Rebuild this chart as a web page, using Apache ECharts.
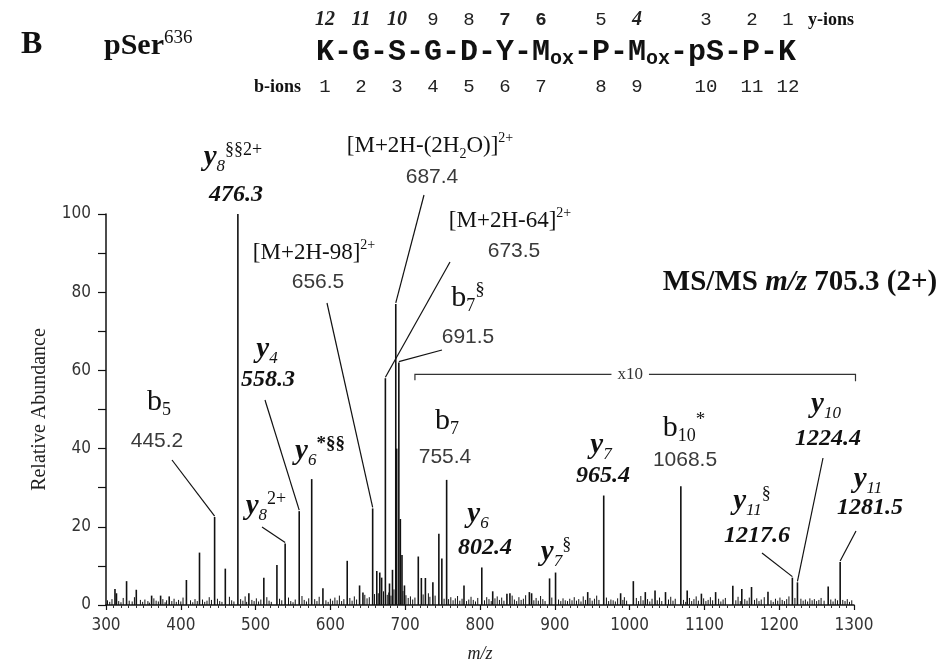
<!DOCTYPE html>
<html><head><meta charset="utf-8">
<script src="https://cdn.jsdelivr.net/npm/echarts@6/dist/echarts.min.js"></script>
<style>html,body{margin:0;padding:0;background:#fff}#c{width:948px;height:671px}</style>
</head><body><div id="c"></div>
<script>
// ---------- DATA ----------
const peakMz = [312.0,314.0,327.5,340.5,361.0,373.0,384.5,407.5,425.0,445.2,459.5,476.3,491.0,511.0,528.5,539.5,558.3,575.0,590.0,622.5,639.0,643.5,656.5,662.0,666.0,668.5,673.5,679.0,683.0,687.4,688.6,691.5,693.5,695.7,699.0,717.5,721.6,727.0,737.0,745.0,749.0,755.4,778.6,802.4,817.0,836.0,840.0,866.0,869.0,893.0,901.0,944.0,965.4,988.0,1005.0,1021.0,1034.0,1048.0,1068.5,1077.0,1096.0,1115.0,1138.0,1150.0,1163.0,1185.0,1217.6,1224.4,1265.5,1281.5];
const peakAbundance = [4.1,3.0,6.1,3.9,2.4,2.4,2.2,6.4,13.4,22.5,9.3,100,3.0,7.0,10.2,15.7,24.0,32.2,4.3,11.3,5.0,3.2,24.7,8.7,8.3,7.0,58.0,5.5,9.0,77.0,40.0,62.0,22.0,12.8,5.0,12.4,6.9,6.9,5.8,18.2,11.9,32.0,5.0,9.6,3.5,2.9,3.0,3.3,3.0,6.8,8.3,3.3,28.0,3.0,6.1,3.3,3.7,3.3,30.4,3.7,2.9,3.3,4.9,4.1,4.6,3.4,7.0,5.8,4.7,11.0];
const noiseMz = [302,305,308,317,320,323,331,335,338,346,349,352,356,358,364,367,370,376,379,381,388,391,394,397,400,403,413,416,419,422,429,432,435,438,441,449,452,455,465,468,471,480,483,486,488,495,498,501,504,507,515,518,521,532,535,544,547,550,553,562,565,568,571,579,582,585,594,597,600,603,606,609,612,615,618,626,629,632,635,646,649,652,659,664,671,676,678,681,685,697,701,704,707,710,713,724,731,733,740,752,758,761,764,767,770,773,776,782,785,788,791,794,797,806,809,812,815,820,823,826,829,832,843,846,849,852,855,858,861,872,875,878,881,884,887,896,905,908,911,914,917,920,923,926,929,932,935,938,941,947,950,953,956,959,969,972,975,978,981,984,991,993,996,1009,1012,1015,1018,1024,1027,1030,1037,1040,1043,1052,1055,1058,1061,1072,1075,1080,1083,1086,1089,1092,1099,1102,1105,1108,1111,1119,1122,1125,1128,1142,1145,1148,1154,1157,1160,1167,1170,1173,1176,1180,1189,1192,1195,1198,1201,1204,1207,1210,1213,1221,1229,1232,1235,1238,1241,1244,1247,1250,1253,1256,1260,1269,1272,1275,1278,1285,1288,1291,1294,1297];
const noiseAbundance = [1.2,0.8,1.5,1.0,0.7,1.8,1.1,0.9,2.0,1.3,0.8,1.4,1.0,0.6,1.7,1.1,0.9,1.5,0.7,1.2,1.0,1.6,0.8,1.3,0.9,1.9,1.2,0.7,1.5,1.0,1.4,0.8,1.1,2.0,1.3,1.6,1.0,0.8,2.1,1.2,0.9,1.5,1.1,2.2,0.8,1.3,1.0,1.7,0.9,1.4,2.0,1.1,0.8,1.6,1.2,1.9,1.0,0.7,1.4,2.3,1.3,0.9,1.7,1.5,1.0,2.1,1.2,0.8,1.6,1.1,1.9,1.2,2.4,1.0,1.5,1.8,1.1,2.2,1.4,2.6,1.7,2.0,2.8,3.0,3.5,2.6,3.2,2.4,4.0,3.6,2.5,1.8,2.2,1.4,1.9,2.7,3.0,2.1,2.4,1.6,1.5,2.0,1.2,1.7,2.3,1.1,1.6,1.0,1.4,2.1,1.3,0.9,1.8,1.2,2.0,1.5,1.0,1.7,2.2,1.3,1.9,1.1,2.4,1.4,1.0,2.0,1.3,1.6,2.5,1.2,1.8,1.1,2.3,1.5,1.0,1.9,1.4,1.0,1.7,1.2,1.0,1.6,1.2,2.0,1.1,1.5,0.9,2.2,1.3,1.8,1.1,1.6,2.4,1.3,1.9,1.0,1.4,1.2,0.9,1.7,1.3,2.0,1.1,1.8,1.0,2.3,1.2,1.5,0.9,1.6,1.2,1.9,1.0,1.4,2.1,1.1,1.6,1.3,0.8,1.8,1.0,1.5,2.2,1.1,1.7,1.0,1.3,2.0,1.2,1.6,0.9,1.4,1.8,1.2,2.1,1.0,1.5,1.1,1.9,1.3,1.7,1.0,1.4,2.0,1.2,0.8,1.6,1.1,1.9,1.3,1.0,1.5,2.2,1.8,1.6,1.1,1.4,0.9,1.7,1.2,1.5,1.0,1.3,1.8,1.1,1.4,0.9,1.6,1.2,1.3,1.0,1.5,0.8,1.2];
const xTickValues = [300,400,500,600,700,800,900,1000,1100,1200,1300];
const yTickLabels = [0,20,40,60,80,100];
const x10Range = [713, 1302];
const x10Level = 59;

// sequence header
const residues = ['K','G','S','G','D','Y','M','P','M','pS','P','K'];
const yIonNumbers = ['12','11','10','9','8','7','6','5','4','3','2','1'];
const bIonNumbers = ['1','2','3','4','5','6','7','8','9','10','11','12'];

// ---------- STYLE ----------
const SERIF = "'Liberation Serif','Times New Roman',serif";
const SANS = "'Liberation Sans',Arial,sans-serif";
const NARROW = "'Liberation Sans Narrow','DejaVu Sans Condensed','Liberation Sans',sans-serif";
const MONO = "'Liberation Mono','Courier New',monospace";
const INK = '#111';

const RICH = {
  yi: {fontFamily:SERIF, fontWeight:'bold', fontStyle:'italic', fontSize:29, lineHeight:34, verticalAlign:'middle', fill:INK},
  ys: {fontFamily:SERIF, fontStyle:'italic', fontSize:17, lineHeight:14, verticalAlign:'bottom', fill:INK},
  yp: {fontFamily:SERIF, fontSize:18, lineHeight:14, verticalAlign:'top', fill:INK},
  ypb: {fontFamily:SERIF, fontWeight:'bold', fontSize:19, lineHeight:14, verticalAlign:'top', fill:INK},
  bi: {fontFamily:SERIF, fontSize:30, lineHeight:34, verticalAlign:'middle', fill:INK},
  bs: {fontFamily:SERIF, fontSize:18, lineHeight:14, verticalAlign:'bottom', fill:INK},
  bp: {fontFamily:SERIF, fontSize:19, lineHeight:14, verticalAlign:'top', fill:INK},
  mi: {fontFamily:SERIF, fontWeight:'bold', fontStyle:'italic', fontSize:24, lineHeight:28, fill:INK},
  mr: {fontFamily:SANS, fontSize:21, lineHeight:26, fill:'#3a3a3a'},
  mm: {fontFamily:SERIF, fontSize:23, lineHeight:30, verticalAlign:'middle', fill:INK},
  mp: {fontFamily:SERIF, fontSize:14, lineHeight:14, verticalAlign:'top', fill:INK},
  msb: {fontFamily:SERIF, fontSize:14, lineHeight:12, verticalAlign:'bottom', fill:INK},
  tb: {fontFamily:SERIF, fontWeight:'bold', fontSize:29, lineHeight:34, fill:INK},
  tbi: {fontFamily:SERIF, fontWeight:'bold', fontStyle:'italic', fontSize:29, lineHeight:34, fill:INK},
  x10: {fontFamily:SERIF, fontSize:17, lineHeight:20, fill:'#333'}
};

// annotation layout (text centres in px; leaders run from a px point to the peak top)
const annotations = [
  {mz:476.3, texts:[['{yi|y}{ys|8}{yp|§§2+}',233,158],['{mi|476.3}',236,195]]},
  {mz:445.2, texts:[['{bi|b}{bs|5}',159,402],['{mr|445.2}',157,441]], lead:[172,460]},
  {mz:558.3, texts:[['{yi|y}{ys|4}',267,350],['{mi|558.3}',268,380]], lead:[265,400]},
  {mz:575.0, texts:[['{yi|y}{ys|6}{ypb|*§§}',320,452]]},
  {mz:539.5, texts:[['{yi|y}{ys|8}{yp|2+}',266,507]], lead:[262,527]},
  {mz:656.5, texts:[['{mm|[M+2H-98]}{mp|2+}',314,253],['{mr|656.5}',318,282]], lead:[327,303]},
  {mz:687.4, texts:[['{mm|[M+2H-(2H}{msb|2}{mm|O)]}{mp|2+}',430,146],['{mr|687.4}',432,177]], lead:[424,195]},
  {mz:673.5, texts:[['{mm|[M+2H-64]}{mp|2+}',510,221],['{mr|673.5}',514,251]], lead:[450,262]},
  {mz:691.5, texts:[['{bi|b}{bs|7}{bp|§}',468,298],['{mr|691.5}',468,337]], lead:[442,350]},
  {mz:755.4, texts:[['{bi|b}{bs|7}',447,421],['{mr|755.4}',445,457]]},
  {mz:802.4, texts:[['{yi|y}{ys|6}',478,515],['{mi|802.4}',485,548]]},
  {mz:901.0, texts:[['{yi|y}{ys|7}{yp|§}',556,553]]},
  {mz:965.4, texts:[['{yi|y}{ys|7}',601,446],['{mi|965.4}',603,476]]},
  {mz:1068.5, texts:[['{bi|b}{bs|10}{bp|*}',684,428],['{mr|1068.5}',685,460]]},
  {mz:1224.4, texts:[['{yi|y}{ys|10}',826,405],['{mi|1224.4}',828,439]], lead:[823,458]},
  {mz:1217.6, texts:[['{yi|y}{ys|11}{yp|§}',752,502],['{mi|1217.6}',757,536]], lead:[762,553]},
  {mz:1281.5, texts:[['{yi|y}{ys|11}',868,480],['{mi|1281.5}',870,508]], lead:[856,531]}
];

// ---------- CHART ----------
const chart = echarts.init(document.getElementById('c'), null, {renderer:'canvas'});
const peakData = peakMz.map((m,i)=>[m, peakAbundance[i]]);
const noiseData = noiseMz.map((m,i)=>[m, noiseAbundance[i]]);

function stick(width){
  return function(params, api){
    const top = api.coord([api.value(0), api.value(1)]);
    const base = api.coord([api.value(0), 0]);
    return {type:'line', shape:{x1:top[0], y1:top[1], x2:base[0], y2:base[1]}, style:{stroke:INK, lineWidth:width}};
  };
}

chart.setOption({
  animation:false,
  backgroundColor:'#fff',
  grid:{left:106, right:94, top:214, bottom:66},
  xAxis:{type:'value', min:300, max:1300, interval:100,
    name:'m/z', nameLocation:'middle', nameGap:40,
    nameTextStyle:{fontFamily:SERIF, fontStyle:'italic', fontSize:18, color:'#222'},
    axisLine:{lineStyle:{color:INK, width:1.5}},
    axisTick:{length:5, lineStyle:{color:INK, width:1.2}},
    minorTick:{show:true, splitNumber:10, length:3, lineStyle:{color:'#333'}},
    splitLine:{show:false},
    axisLabel:{fontFamily:NARROW, fontSize:17, color:'#333', margin:12,
      formatter:v=> xTickValues.indexOf(v)>=0 ? String(v) : ''}},
  yAxis:{type:'value', min:0, max:100, interval:10,
    name:'Relative Abundance', nameLocation:'middle', nameGap:56, nameRotate:90,
    nameTextStyle:{fontFamily:SERIF, fontSize:20, color:'#222'},
    axisLine:{show:true, lineStyle:{color:INK, width:1.5}},
    axisTick:{show:true, length:8, lineStyle:{color:INK, width:1.2}},
    splitLine:{show:false},
    axisLabel:{fontFamily:NARROW, fontSize:17, color:'#333', margin:15,
      formatter:v=> yTickLabels.indexOf(v)>=0 ? String(v) : ''}},
  series:[
    {type:'custom', name:'noise', renderItem:stick(1), data:noiseData, encode:{x:0,y:1}, silent:true},
    {type:'custom', name:'peaks', renderItem:stick(1.6), data:peakData, encode:{x:0,y:1}, silent:true}
  ]
});

function px(mz, v){ return chart.convertToPixel({gridIndex:0}, [mz, v]); }
function peakTop(mz){ return px(mz, peakAbundance[peakMz.indexOf(mz)]); }

const g = [];
annotations.forEach(a=>{
  a.texts.forEach(t=>g.push({type:'text', x:t[1], y:t[2], z:10,
    style:{text:t[0], rich:RICH, align:'center', verticalAlign:'middle', fill:INK}}));
  if(a.lead){
    const p = peakTop(a.mz);
    g.push({type:'line', z:10, shape:{x1:a.lead[0], y1:a.lead[1], x2:p[0], y2:p[1]-1}, style:{stroke:INK, lineWidth:1.2}});
  }
});

// x10 bracket
const xa = px(x10Range[0], x10Level), xb = px(x10Range[1], x10Level);
g.push({type:'polyline', z:10, shape:{points:[[xa[0],xa[1]+6],[xa[0],xa[1]],[xb[0],xb[1]],[xb[0],xb[1]+7]]}, style:{stroke:'#333', lineWidth:1.2, fill:null}});
g.push({type:'text', z:11, x:(xa[0]+xb[0])/2 - 5, y:xa[1], style:{text:'{x10|x10}', rich:RICH, align:'center', verticalAlign:'middle', backgroundColor:'#fff', padding:[0,6]}});

// MS/MS title
g.push({type:'text', x:800, y:283, style:{text:'{tb|MS/MS }{tbi|m/z}{tb| 705.3 (2+)}', rich:RICH, align:'center', verticalAlign:'middle'}});

// header
g.push({type:'text', x:21, y:45, style:{text:'B', fontFamily:SERIF, fontWeight:'bold', fontSize:32, fill:INK, align:'left', verticalAlign:'middle'}});
g.push({type:'text', x:104, y:46, style:{text:'{a|pSer}{b|636}', align:'left', verticalAlign:'middle',
  rich:{a:{fontFamily:SERIF, fontWeight:'bold', fontSize:30, lineHeight:34, fill:INK}, b:{fontFamily:SERIF, fontSize:19, lineHeight:16, verticalAlign:'top', fill:INK}}}});
g.push({type:'text', x:316, y:52, style:{text:'{s|K-G-S-G-D-Y-M}{o|ox}{s|-P-M}{o|ox}{s|-pS-P-K}', align:'left', verticalAlign:'middle',
  rich:{s:{fontFamily:MONO, fontWeight:'bold', fontSize:30, lineHeight:34, verticalAlign:'middle', fill:INK},
        o:{fontFamily:MONO, fontWeight:'bold', fontSize:20, lineHeight:14, verticalAlign:'bottom', fill:INK}}}});
const resX = [325,361,397,433,469,505,541,601,637,706,752,788];
const yIonStyle = ['bi','bi','bi','r','r','b','b','r','bi','r','r','r'];
const numFont = {r:{fontWeight:'normal', fontStyle:'normal'}, b:{fontWeight:'bold', fontStyle:'normal'}, bi:{fontWeight:'bold', fontStyle:'italic'}};
yIonNumbers.forEach((n,i)=>{
  const f = numFont[yIonStyle[i]];
  g.push({type:'text', x:resX[i], y:20, style:{text:n, fontFamily: f.fontStyle==='italic'? SERIF : MONO, fontSize: f.fontStyle==='italic'?20:19, fontWeight:f.fontWeight, fontStyle:f.fontStyle, fill:'#222', align:'center', verticalAlign:'middle'}});
});
bIonNumbers.forEach((n,i)=>{
  g.push({type:'text', x:resX[i], y:87, style:{text:n, fontFamily:MONO, fontSize:19, fill:'#222', align:'center', verticalAlign:'middle'}});
});
g.push({type:'text', x:808, y:20, style:{text:'y-ions', fontFamily:SERIF, fontWeight:'bold', fontSize:18, fill:INK, align:'left', verticalAlign:'middle'}});
g.push({type:'text', x:301, y:87, style:{text:'b-ions', fontFamily:SERIF, fontWeight:'bold', fontSize:18, fill:INK, align:'right', verticalAlign:'middle'}});

chart.setOption({graphic:g});
</script></body></html>
